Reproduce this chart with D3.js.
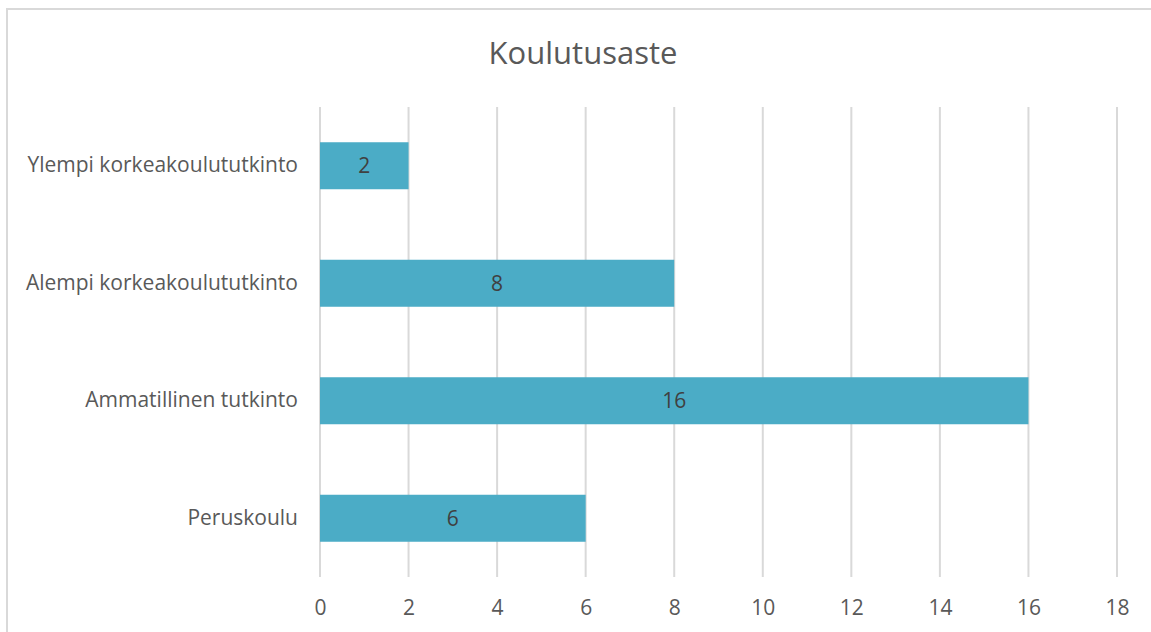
<!DOCTYPE html>
<html><head><meta charset="utf-8">
<script src="https://cdn.jsdelivr.net/npm/d3@7"></script>
<style>body{margin:0;background:#fff;} svg{display:block;}</style>
</head><body>
<svg id="chart" width="1151" height="632"></svg>
<script>
const categories = ["Ylempi korkeakoulututkinto","Alempi korkeakoulututkinto","Ammatillinen tutkinto","Peruskoulu"];
const values = [2, 8, 16, 6];
const ticks = [0,2,4,6,8,10,12,14,16,18];
const title = "Koulutusaste";

const svg = d3.select("#chart");
const font = "'Open Sans', sans-serif";
// frame
svg.append("rect").attr("x",7).attr("y",9).attr("width",1160).attr("height",640)
  .attr("fill","#fff").attr("stroke","#d9d9d9").attr("stroke-width",2);

const x = d3.scaleLinear().domain([0,18]).range([320,1117]);
const y = d3.scaleBand().domain(categories).range([107,577]).paddingInner(0.6).paddingOuter(0.3);

svg.append("text").attr("x",583).attr("y",64).attr("text-anchor","middle")
  .attr("font-family",font).attr("font-size",31).attr("fill","#595959").text(title);

svg.append("g").selectAll("line").data(ticks).join("line")
  .attr("x1",d=>x(d)).attr("x2",d=>x(d)).attr("y1",107).attr("y2",577)
  .attr("stroke","#d9d9d9").attr("stroke-width",2);

svg.append("g").selectAll("rect").data(values).join("rect")
  .attr("x",x(0)).attr("y",(d,i)=>y(categories[i])).attr("width",d=>x(d)-x(0))
  .attr("height",y.bandwidth()).attr("fill","#4bacc6");

svg.append("g").selectAll("text").data(values).join("text")
  .attr("x",d=>(x(d)+x(0))/2).attr("y",(d,i)=>y(categories[i])+y.bandwidth()/2)
  .attr("dy","0.35em").attr("text-anchor","middle")
  .attr("font-family",font).attr("font-size",21).attr("fill","#404040").text(d=>d);

const xAxis = svg.append("g").attr("transform","translate(0,577)")
  .call(d3.axisBottom(x).tickValues(ticks).tickSize(0).tickPadding(23));
xAxis.select(".domain").remove();
xAxis.selectAll("text").attr("font-family",font).attr("font-size",21).attr("fill","#595959");

const yAxis = svg.append("g").attr("transform","translate(320,0)")
  .call(d3.axisLeft(y).tickSize(0).tickPadding(22));
yAxis.select(".domain").remove();
yAxis.selectAll("text").attr("font-family",font).attr("font-size",21).attr("fill","#595959");
</script>
</body></html>
